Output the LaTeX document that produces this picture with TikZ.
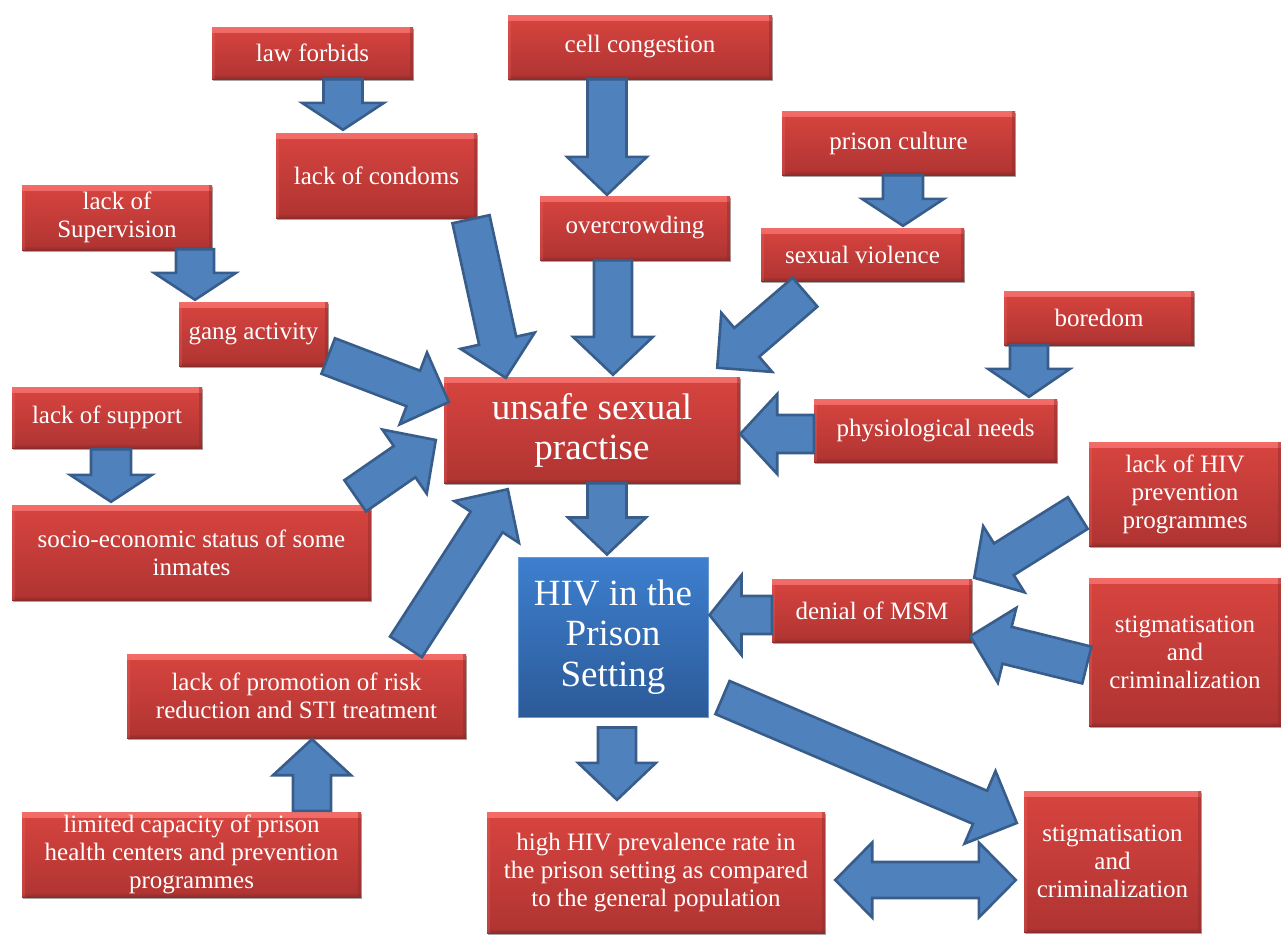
\documentclass[tikz,border=0pt]{standalone}
\usepackage{fontspec}
\setmainfont{Liberation Serif}
\usetikzlibrary{calc,shadows}
\definecolor{rtop}{HTML}{D8443F}
\definecolor{rbot}{HTML}{AF3432}
\definecolor{rhi}{HTML}{F26C68}
\definecolor{rdark}{HTML}{8C2D2B}
\definecolor{btop}{HTML}{3D7FCF}
\definecolor{bbot}{HTML}{2C5A98}
\definecolor{bedge}{HTML}{6A9AD6}
\definecolor{afill}{HTML}{4F81BD}
\definecolor{aline}{HTML}{385D8A}
\newcommand{\blkarrow}[5]{%
  \coordinate (bT) at #1; \coordinate (bP) at #2;
  \coordinate (bS) at ($(bP)!#5!(bT)$);
  \draw[blockarrow] ($(bT)!#3!90:(bP)$) -- ($(bS)!#3!-90:(bT)$) -- ($(bS)!#4!-90:(bT)$) -- (bP)
    -- ($(bS)!#4!90:(bT)$) -- ($(bS)!#3!90:(bT)$) -- ($(bT)!#3!-90:(bP)$) -- cycle;}
\newcommand{\dblkarrow}[5]{%
  \coordinate (bL) at #1; \coordinate (bR) at #2;
  \coordinate (bSL) at ($(bL)!#5!(bR)$);
  \coordinate (bSR) at ($(bR)!#5!(bL)$);
  \draw[blockarrow] (bL) -- ($(bSL)!#4!90:(bR)$) -- ($(bSL)!#3!90:(bR)$) -- ($(bSR)!#3!-90:(bL)$)
    -- ($(bSR)!#4!-90:(bL)$) -- (bR) -- ($(bSR)!#4!90:(bL)$) -- ($(bSR)!#3!90:(bL)$)
    -- ($(bSL)!#3!-90:(bR)$) -- ($(bSL)!#4!-90:(bR)$) -- cycle;}
\begin{document}
\begin{tikzpicture}[x=1pt,y=-1pt,
  redbox/.style={draw=none, top color=rtop, bottom color=rbot, text=white, inner sep=0pt,
    align=center, font=\fontsize{25}{28}\selectfont,
    drop shadow={shadow xshift=1pt, shadow yshift=-2pt, fill=black, opacity=0.35},
    path picture={
      \shade[top color=rhi, bottom color=rtop] (path picture bounding box.north west)
        rectangle ([yshift=-5pt]path picture bounding box.north east);
      \shade[top color=rbot, bottom color=rdark] ([yshift=4pt]path picture bounding box.south west)
        rectangle (path picture bounding box.south east);
      \fill[rdark, opacity=0.45] ([xshift=-3pt]path picture bounding box.north east)
        rectangle (path picture bounding box.south east);
      \fill[rhi, opacity=0.25] (path picture bounding box.north west)
        rectangle ([xshift=3pt]path picture bounding box.south west);
    }},
  bluebox/.style={draw=bedge, line width=1pt, top color=btop, bottom color=bbot, text=white,
    inner sep=0pt, align=center, font=\fontsize{37}{40.5}\selectfont},
  blockarrow/.style={fill=afill, draw=aline, line width=2.6pt, line join=miter}]
\useasboundingbox (0,0) rectangle (1281,935);
% ---------- boxes ----------
\node[redbox, minimum width=201pt, minimum height=52pt] (law) at (312.5,53) {law forbids};
\node[redbox, minimum width=264pt, minimum height=64pt] (cell) at (640,47) {cell congestion};
\node[redbox, minimum width=201pt, minimum height=85pt] (condoms) at (376.5,175.5) {lack of condoms};
\node[redbox, minimum width=233pt, minimum height=64pt] (culture) at (898.5,143) {prison culture};
\node[redbox, minimum width=190pt, minimum height=65pt] (superv) at (117,217.5) {lack of\\Supervision};
\node[redbox, minimum width=190pt, minimum height=64pt] (crowd) at (635,228) {overcrowding};
\node[redbox, minimum width=203pt, minimum height=53pt] (viol) at (862.5,254.5) {sexual violence};
\node[redbox, minimum width=149pt, minimum height=64pt] (gang) at (253.5,334) {gang activity};
\node[redbox, minimum width=190pt, minimum height=54pt] (bored) at (1099,318) {boredom};
\node[redbox, minimum width=190pt, minimum height=61pt] (support) at (107,417.5) {lack of support};
\node[redbox, minimum width=296pt, minimum height=106pt, font=\fontsize{37}{40}\selectfont] (unsafe) at (592,430) {unsafe sexual\\practise};
\node[redbox, minimum width=243pt, minimum height=63pt] (physio) at (935.5,430.5) {physiological needs};
\node[redbox, minimum width=192pt, minimum height=104pt] (lackhiv) at (1185,494) {lack of HIV\\prevention\\programmes};
\node[redbox, minimum width=359pt, minimum height=95pt] (socio) at (191.5,552.5) {socio-economic status of some\\inmates};
\node[bluebox, minimum width=190pt, minimum height=160pt] (hiv) at (613,637) {HIV in the\\Prison\\Setting};
\node[redbox, minimum width=200pt, minimum height=63pt] (msm) at (872,610.5) {denial of MSM};
\node[redbox, minimum width=192pt, minimum height=148pt] (stigA) at (1185,652) {stigmatisation\\and\\criminalization};
\node[redbox, minimum width=339pt, minimum height=84pt] (promo) at (296.5,696) {lack of promotion of risk\\reduction and STI treatment};
\node[redbox, minimum width=339pt, minimum height=85pt] (limited) at (191.5,854.5) {limited capacity of prison\\health centers and prevention\\programmes};
\node[redbox, minimum width=338pt, minimum height=121pt] (high) at (656,872.5) {high HIV prevalence rate in\\the prison setting as compared\\to the general population};
\node[redbox, minimum width=177pt, minimum height=141pt] (stigB) at (1112.5,861.5) {stigmatisation\\and\\criminalization};
% ---------- arrows ----------
\blkarrow{([xshift=30.5pt]law.south)}{([xshift=-33.5pt,yshift=3pt]condoms.north)}{19.5pt}{41pt}{27pt}
\blkarrow{([xshift=-33pt]cell.south)}{([xshift=-28pt,yshift=1pt]crowd.north)}{19.5pt}{40pt}{38pt}
\blkarrow{([xshift=-22pt]crowd.south)}{([xshift=21pt,yshift=2pt]unsafe.north)}{19pt}{40pt}{38pt}
\blkarrow{([xshift=4.5pt]culture.south)}{([xshift=40.5pt,yshift=2pt]viol.north)}{20pt}{41pt}{27pt}
\blkarrow{([xshift=-57.5pt,yshift=-11pt]viol.south)}{([xshift=-23pt,yshift=9pt]unsafe.north east)}{19pt}{39pt}{39pt}
\blkarrow{([xshift=94.5pt,yshift=-1pt]condoms.south)}{([xshift=62pt,yshift=-1pt]unsafe.north west)}{19pt}{38pt}{38pt}
\blkarrow{([xshift=78pt,yshift=1pt]superv.south)}{([xshift=-58.5pt,yshift=2pt]gang.north)}{19pt}{41pt}{27pt}
\blkarrow{([yshift=-22pt]gang.east)}{([xshift=5pt,yshift=28pt]unsafe.west)}{19pt}{38.5pt}{38pt}
\blkarrow{([xshift=-70pt]bored.south)}{([xshift=93.5pt,yshift=2pt]physio.north)}{19pt}{41pt}{28pt}
\blkarrow{([yshift=-3.5pt]physio.west)}{([yshift=-4pt]unsafe.east)}{19pt}{40pt}{37pt}
\blkarrow{([xshift=-11pt,yshift=-19pt]lackhiv.west)}{([xshift=2pt,yshift=1pt]msm.north east)}{18.7pt}{39pt}{35pt}
\blkarrow{([xshift=-2pt,yshift=-13pt]stigA.west)}{([xshift=-2pt,yshift=6pt]msm.south east)}{19pt}{38.6pt}{38pt}
\blkarrow{([yshift=-4.5pt]msm.west)}{([xshift=1pt,yshift=22pt]hiv.east)}{19pt}{40pt}{32pt}
\blkarrow{([xshift=15pt]unsafe.south)}{([xshift=-6pt,yshift=2pt]hiv.north)}{19.5pt}{39pt}{37pt}
\blkarrow{([xshift=4pt,yshift=-10pt]hiv.south)}{([xshift=-39pt,yshift=12pt]high.north)}{19pt}{39pt}{37pt}
\blkarrow{([xshift=14pt,yshift=20pt]hiv.south east)}{([xshift=-7pt,yshift=38.5pt]stigB.west)}{18pt}{39.5pt}{40pt}
\dblkarrow{([xshift=10pt,yshift=-7.5pt]high.east)}{([xshift=-8pt,yshift=-18.5pt]stigB.west)}{18pt}{37.5pt}{37pt}
\blkarrow{([xshift=4pt,yshift=-1pt]support.south)}{([xshift=-80.5pt,yshift=3pt]socio.north)}{20pt}{41pt}{27pt}
\blkarrow{([xshift=-16pt,yshift=9pt]socio.north east)}{([xshift=-8pt,yshift=-10pt]unsafe.west)}{19pt}{39pt}{38pt}
\blkarrow{([xshift=109.5pt,yshift=7pt]promo.north)}{([xshift=64pt,yshift=-6pt]unsafe.south west)}{19pt}{38.5pt}{39pt}
\blkarrow{([xshift=120.5pt,yshift=1pt]limited.north)}{([xshift=15.5pt,yshift=-1pt]promo.south)}{19pt}{39pt}{36pt}
\end{tikzpicture}
\end{document}
